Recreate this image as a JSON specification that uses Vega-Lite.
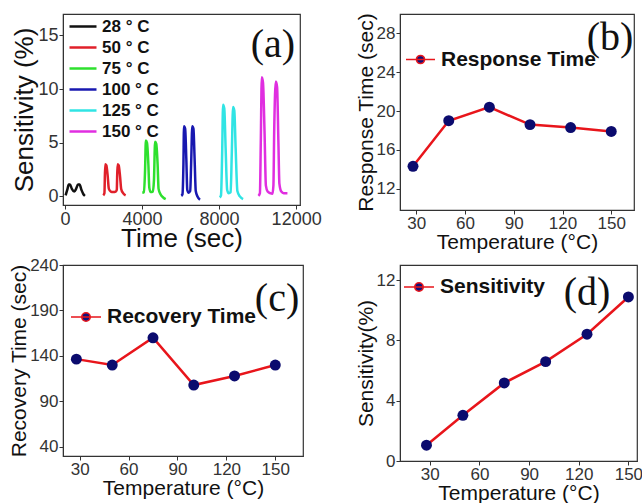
{
  "$schema": "https://vega.github.io/schema/vega-lite/v6.json",
  "padding": {"left": 8, "top": 12, "right": 0, "bottom": 0},
  "background": "white",
  "columns": 2,
  "bounds": "flush",
  "align": "each",
  "spacing": {"column": 97, "row": 55},
  "resolve": {"scale": {"color": "independent"}, "legend": {"color": "independent"}},
  "config": {
    "font": "Liberation Sans",
    "view": {"stroke": "#333", "strokeWidth": 1.2},
    "axis": {"grid": false, "labelFontSize": 17, "labelColor": "#333", "titleFontSize": 21, "titleFontWeight": "normal", "titleColor": "#111", "tickColor": "#333", "domainColor": "#333", "tickSize": 4, "labelPadding": 1, "titlePadding": 0, "labelFlush": false, "labelOverlap": false, "format": "d"},
    "legend": {"labelFontWeight": "bold", "labelColor": "#111", "padding": 0, "labelLimit": 400}
  },
  "concat": [
    {
      "width": 237, "height": 191,
      "data": {"values": [
        {"time": 35, "sens": 0.1, "temp": "28 ° C"},
        {"time": 120, "sens": 0.6, "temp": "28 ° C"},
        {"time": 200, "sens": 1.1, "temp": "28 ° C"},
        {"time": 260, "sens": 1.1, "temp": "28 ° C"},
        {"time": 360, "sens": 0.7, "temp": "28 ° C"},
        {"time": 480, "sens": 0.45, "temp": "28 ° C"},
        {"time": 580, "sens": 0.7, "temp": "28 ° C"},
        {"time": 680, "sens": 1.1, "temp": "28 ° C"},
        {"time": 760, "sens": 1.1, "temp": "28 ° C"},
        {"time": 860, "sens": 0.6, "temp": "28 ° C"},
        {"time": 960, "sens": 0.2, "temp": "28 ° C"},
        {"time": 1040, "sens": 0.05, "temp": "28 ° C"},
        {"time": 1990, "sens": 0.1, "temp": "50 ° C"},
        {"time": 2050, "sens": 0.3, "temp": "50 ° C"},
        {"time": 2090, "sens": 3.0, "temp": "50 ° C"},
        {"time": 2150, "sens": 2.9, "temp": "50 ° C"},
        {"time": 2220, "sens": 1.9, "temp": "50 ° C"},
        {"time": 2280, "sens": 0.7, "temp": "50 ° C"},
        {"time": 2380, "sens": 0.45, "temp": "50 ° C"},
        {"time": 2500, "sens": 0.4, "temp": "50 ° C"},
        {"time": 2640, "sens": 0.45, "temp": "50 ° C"},
        {"time": 2690, "sens": 0.6, "temp": "50 ° C"},
        {"time": 2730, "sens": 3.0, "temp": "50 ° C"},
        {"time": 2790, "sens": 2.9, "temp": "50 ° C"},
        {"time": 2860, "sens": 1.9, "temp": "50 ° C"},
        {"time": 2920, "sens": 0.7, "temp": "50 ° C"},
        {"time": 3020, "sens": 0.3, "temp": "50 ° C"},
        {"time": 3150, "sens": 0.1, "temp": "50 ° C"},
        {"time": 4016, "sens": 0.35, "temp": "75 ° C"},
        {"time": 4100, "sens": 0.4, "temp": "75 ° C"},
        {"time": 4160, "sens": 2.5, "temp": "75 ° C"},
        {"time": 4200, "sens": 5.2, "temp": "75 ° C"},
        {"time": 4260, "sens": 5.0, "temp": "75 ° C"},
        {"time": 4330, "sens": 3.0, "temp": "75 ° C"},
        {"time": 4380, "sens": 0.8, "temp": "75 ° C"},
        {"time": 4450, "sens": 0.4, "temp": "75 ° C"},
        {"time": 4560, "sens": 0.45, "temp": "75 ° C"},
        {"time": 4620, "sens": 1.5, "temp": "75 ° C"},
        {"time": 4680, "sens": 5.1, "temp": "75 ° C"},
        {"time": 4740, "sens": 4.9, "temp": "75 ° C"},
        {"time": 4810, "sens": 3.0, "temp": "75 ° C"},
        {"time": 4860, "sens": 0.7, "temp": "75 ° C"},
        {"time": 4960, "sens": 0.2, "temp": "75 ° C"},
        {"time": 5100, "sens": -0.1, "temp": "75 ° C"},
        {"time": 5230, "sens": -0.25, "temp": "75 ° C"},
        {"time": 6040, "sens": 0.05, "temp": "100 ° C"},
        {"time": 6100, "sens": 0.2, "temp": "100 ° C"},
        {"time": 6150, "sens": 3.0, "temp": "100 ° C"},
        {"time": 6180, "sens": 6.55, "temp": "100 ° C"},
        {"time": 6240, "sens": 6.3, "temp": "100 ° C"},
        {"time": 6300, "sens": 3.5, "temp": "100 ° C"},
        {"time": 6350, "sens": 0.6, "temp": "100 ° C"},
        {"time": 6420, "sens": 0.35, "temp": "100 ° C"},
        {"time": 6500, "sens": 0.5, "temp": "100 ° C"},
        {"time": 6550, "sens": 3.0, "temp": "100 ° C"},
        {"time": 6610, "sens": 6.55, "temp": "100 ° C"},
        {"time": 6670, "sens": 6.3, "temp": "100 ° C"},
        {"time": 6730, "sens": 3.5, "temp": "100 ° C"},
        {"time": 6790, "sens": 0.5, "temp": "100 ° C"},
        {"time": 6880, "sens": 0.0, "temp": "100 ° C"},
        {"time": 7010, "sens": -0.3, "temp": "100 ° C"},
        {"time": 8036, "sens": -0.1, "temp": "125 ° C"},
        {"time": 8100, "sens": 0.1, "temp": "125 ° C"},
        {"time": 8160, "sens": 4.0, "temp": "125 ° C"},
        {"time": 8208, "sens": 8.55, "temp": "125 ° C"},
        {"time": 8270, "sens": 8.2, "temp": "125 ° C"},
        {"time": 8340, "sens": 4.5, "temp": "125 ° C"},
        {"time": 8420, "sens": 0.6, "temp": "125 ° C"},
        {"time": 8500, "sens": 0.3, "temp": "125 ° C"},
        {"time": 8600, "sens": 0.4, "temp": "125 ° C"},
        {"time": 8660, "sens": 4.0, "temp": "125 ° C"},
        {"time": 8727, "sens": 8.33, "temp": "125 ° C"},
        {"time": 8790, "sens": 8.0, "temp": "125 ° C"},
        {"time": 8860, "sens": 4.5, "temp": "125 ° C"},
        {"time": 8950, "sens": 0.5, "temp": "125 ° C"},
        {"time": 9080, "sens": 0.0, "temp": "125 ° C"},
        {"time": 9247, "sens": -0.25, "temp": "125 ° C"},
        {"time": 10042, "sens": 0.05, "temp": "150 ° C"},
        {"time": 10120, "sens": 0.3, "temp": "150 ° C"},
        {"time": 10165, "sens": 5.0, "temp": "150 ° C"},
        {"time": 10217, "sens": 11.1, "temp": "150 ° C"},
        {"time": 10280, "sens": 10.6, "temp": "150 ° C"},
        {"time": 10360, "sens": 6.0, "temp": "150 ° C"},
        {"time": 10430, "sens": 1.0, "temp": "150 ° C"},
        {"time": 10520, "sens": 0.45, "temp": "150 ° C"},
        {"time": 10650, "sens": 0.3, "temp": "150 ° C"},
        {"time": 10770, "sens": 0.25, "temp": "150 ° C"},
        {"time": 10820, "sens": 1.0, "temp": "150 ° C"},
        {"time": 10860, "sens": 6.0, "temp": "150 ° C"},
        {"time": 10945, "sens": 10.7, "temp": "150 ° C"},
        {"time": 11010, "sens": 10.2, "temp": "150 ° C"},
        {"time": 11080, "sens": 5.0, "temp": "150 ° C"},
        {"time": 11130, "sens": 1.2, "temp": "150 ° C"},
        {"time": 11230, "sens": 0.45, "temp": "150 ° C"},
        {"time": 11350, "sens": 0.3, "temp": "150 ° C"},
        {"time": 11548, "sens": 0.3, "temp": "150 ° C"}
      ]},
      "layer": [
        {
          "mark": {"type": "line", "strokeWidth": 2.5, "interpolate": "monotone"},
          "encoding": {
            "x": {"field": "time", "type": "quantitative", "title": "Time (sec)", "scale": {"domain": [-100, 12200], "nice": false, "zero": false}, "axis": {"values": [0, 4000, 8000, 12000], "titleFontSize": 26, "labelFontSize": 18, "titlePadding": -3}},
            "y": {"field": "sens", "type": "quantitative", "title": "Sensitivity (%)", "scale": {"domain": [-0.8, 17], "nice": false, "zero": false}, "axis": {"values": [0, 5, 10, 15], "titleFontSize": 26, "labelFontSize": 18}},
            "color": {"field": "temp", "type": "nominal", "scale": {"domain": ["28 ° C", "50 ° C", "75 ° C", "100 ° C", "125 ° C", "150 ° C"], "range": ["#111111", "#e0202a", "#2ee02e", "#1818b0", "#30e4e4", "#e02ee0"]}, "legend": {"title": null, "orient": "none", "legendX": 5, "legendY": 2, "symbolType": "stroke", "symbolSize": 729, "symbolStrokeWidth": 2.5, "labelFontSize": 17, "clipHeight": 21, "rowPadding": 0, "labelOffset": 4}}
          }
        },
        {
          "data": {"values": [{"label": "(a)"}]},
          "mark": {"type": "text", "font": "Liberation Serif", "fontSize": 40, "color": "#111", "baseline": "middle", "align": "center"},
          "encoding": {
            "x": {"datum": 10797, "type": "quantitative", "title": "Time (sec)"},
            "y": {"datum": 14.1, "type": "quantitative", "title": "Sensitivity (%)"},
            "text": {"field": "label"}
          }
        }
      ]
    },
    {
      "width": 234, "height": 196,
      "data": {"values": [
        {"temperature": 28, "value": 14.3, "series": "Response Time"},
        {"temperature": 50, "value": 19.0, "series": "Response Time"},
        {"temperature": 75, "value": 20.4, "series": "Response Time"},
        {"temperature": 100, "value": 18.6, "series": "Response Time"},
        {"temperature": 125, "value": 18.3, "series": "Response Time"},
        {"temperature": 150, "value": 17.9, "series": "Response Time"}
      ]},
      "layer": [
        {
          "mark": {"type": "line", "strokeWidth": 2.5},
          "encoding": {
            "x": {"field": "temperature", "type": "quantitative", "title": "Temperature (°C)", "scale": {"domain": [20, 164], "nice": false, "zero": false}, "axis": {"values": [30, 60, 90, 120, 150]}},
            "y": {"field": "value", "type": "quantitative", "title": "Response Time (sec)", "scale": {"domain": [9.8, 30], "nice": false, "zero": false}, "axis": {"values": [12, 16, 20, 24, 28]}},
            "color": {"field": "series", "type": "nominal", "scale": {"range": ["#e8151b"]}, "legend": {"title": null, "orient": "none", "legendX": 5, "legendY": 30, "symbolType": "M-1,0H1M0.28,0A0.28,0.28,0,1,1,-0.28,0A0.28,0.28,0,1,1,0.28,0Z", "symbolSize": 840, "symbolStrokeWidth": 1.6, "labelFontSize": 21, "labelOffset": 5, "encode": {"symbols": {"update": {"fill": {"value": "#10107a"}, "stroke": {"value": "#e8151b"}}}}}}
          }
        },
        {
          "mark": {"type": "point", "filled": true, "size": 120, "color": "#0b0b6e", "opacity": 1},
          "encoding": {
            "x": {"field": "temperature", "type": "quantitative", "title": "Temperature (°C)"},
            "y": {"field": "value", "type": "quantitative", "title": "Response Time (sec)"}
          }
        },
        {
          "data": {"values": [{"label": "(b)"}]},
          "mark": {"type": "text", "font": "Liberation Serif", "fontSize": 40, "color": "#111", "baseline": "middle", "align": "center"},
          "encoding": {
            "x": {"datum": 149.2, "type": "quantitative", "title": "Temperature (°C)"},
            "y": {"datum": 27.5, "type": "quantitative", "title": "Response Time (sec)"},
            "text": {"field": "label"}
          }
        }
      ]
    },
    {
      "width": 240, "height": 191,
      "data": {"values": [
        {"temperature": 28, "value": 136.5, "series": "Recovery Time"},
        {"temperature": 50, "value": 130, "series": "Recovery Time"},
        {"temperature": 75, "value": 160, "series": "Recovery Time"},
        {"temperature": 100, "value": 108, "series": "Recovery Time"},
        {"temperature": 125, "value": 118, "series": "Recovery Time"},
        {"temperature": 150, "value": 130, "series": "Recovery Time"}
      ]},
      "layer": [
        {
          "mark": {"type": "line", "strokeWidth": 2.5},
          "encoding": {
            "x": {"field": "temperature", "type": "quantitative", "title": "Temperature (°C)", "scale": {"domain": [19.8, 167], "nice": false, "zero": false}, "axis": {"values": [30, 60, 90, 120, 150]}},
            "y": {"field": "value", "type": "quantitative", "title": "Recovery Time (sec)", "scale": {"domain": [30, 240], "nice": false, "zero": false}, "axis": {"values": [40, 90, 140, 190, 240]}},
            "color": {"field": "series", "type": "nominal", "scale": {"range": ["#e8151b"]}, "legend": {"title": null, "orient": "none", "legendX": 7, "legendY": 36, "symbolType": "M-1,0H1M0.28,0A0.28,0.28,0,1,1,-0.28,0A0.28,0.28,0,1,1,0.28,0Z", "symbolSize": 900, "symbolStrokeWidth": 1.6, "labelFontSize": 21, "labelOffset": 5, "encode": {"symbols": {"update": {"fill": {"value": "#10107a"}, "stroke": {"value": "#e8151b"}}}}}}
          }
        },
        {
          "mark": {"type": "point", "filled": true, "size": 120, "color": "#0b0b6e", "opacity": 1},
          "encoding": {
            "x": {"field": "temperature", "type": "quantitative", "title": "Temperature (°C)"},
            "y": {"field": "value", "type": "quantitative", "title": "Recovery Time (sec)"}
          }
        },
        {
          "data": {"values": [{"label": "(c)"}]},
          "mark": {"type": "text", "font": "Liberation Serif", "fontSize": 40, "color": "#111", "baseline": "middle", "align": "center"},
          "encoding": {
            "x": {"datum": 151.1, "type": "quantitative", "title": "Temperature (°C)"},
            "y": {"datum": 202.6, "type": "quantitative", "title": "Recovery Time (sec)"},
            "text": {"field": "label"}
          }
        }
      ]
    },
    {
      "width": 237, "height": 196,
      "data": {"values": [
        {"temperature": 28, "value": 1.05, "series": "Sensitivity"},
        {"temperature": 50, "value": 3.03, "series": "Sensitivity"},
        {"temperature": 75, "value": 5.18, "series": "Sensitivity"},
        {"temperature": 100, "value": 6.59, "series": "Sensitivity"},
        {"temperature": 125, "value": 8.41, "series": "Sensitivity"},
        {"temperature": 150, "value": 10.88, "series": "Sensitivity"}
      ]},
      "layer": [
        {
          "mark": {"type": "line", "strokeWidth": 2.5},
          "encoding": {
            "x": {"field": "temperature", "type": "quantitative", "title": "Temperature (°C)", "scale": {"domain": [12, 155.2], "nice": false, "zero": false}, "axis": {"values": [30, 60, 90, 120, 150]}},
            "y": {"field": "value", "type": "quantitative", "title": "Sensitivity(%)", "scale": {"domain": [0, 13], "nice": false, "zero": false}, "axis": {"values": [0, 2, 4, 6, 8, 10, 12]}},
            "color": {"field": "series", "type": "nominal", "scale": {"range": ["#e8151b"]}, "legend": {"title": null, "orient": "none", "legendX": 3, "legendY": 6, "symbolType": "M-1,0H1M0.28,0A0.28,0.28,0,1,1,-0.28,0A0.28,0.28,0,1,1,0.28,0Z", "symbolSize": 900, "symbolStrokeWidth": 1.6, "labelFontSize": 21, "labelOffset": 5, "encode": {"symbols": {"update": {"fill": {"value": "#10107a"}, "stroke": {"value": "#e8151b"}}}}}}
          }
        },
        {
          "mark": {"type": "point", "filled": true, "size": 120, "color": "#0b0b6e", "opacity": 1},
          "encoding": {
            "x": {"field": "temperature", "type": "quantitative", "title": "Temperature (°C)"},
            "y": {"field": "value", "type": "quantitative", "title": "Sensitivity(%)"}
          }
        },
        {
          "data": {"values": [{"label": "(d)"}]},
          "mark": {"type": "text", "font": "Liberation Serif", "fontSize": 40, "color": "#111", "baseline": "middle", "align": "center"},
          "encoding": {
            "x": {"datum": 125, "type": "quantitative", "title": "Temperature (°C)"},
            "y": {"datum": 11.14, "type": "quantitative", "title": "Sensitivity(%)"},
            "text": {"field": "label"}
          }
        }
      ]
    }
  ]
}
